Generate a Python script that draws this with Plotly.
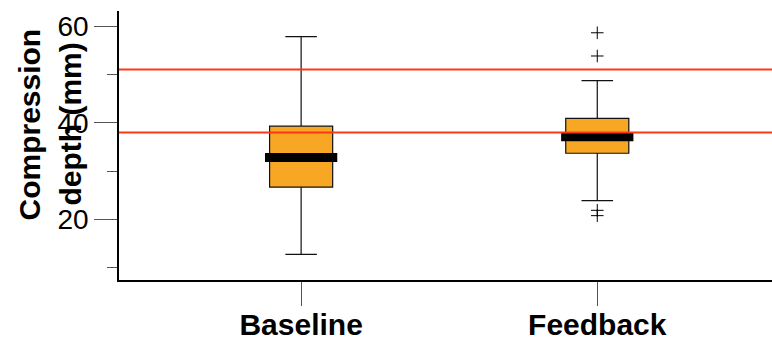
import plotly.graph_objects as go

categories = ["Baseline", "Feedback"]
q1 = [26.7, 33.7]
median = [32.8, 37.1]
q3 = [39.3, 40.9]
lower_whisker = [12.8, 23.9]
upper_whisker = [57.8, 48.7]
outliers = [[], [58.6, 53.8, 21.9, 20.8]]
reference_lines = [51.0, 38.0]
y_major_ticks = [20, 40, 60]
y_minor_ticks = [10, 30, 50]
title_lines = ["Compression", "depth (mm)"]

BOX_FILL = "#F8A724"
BOX_WIDTH = 0.213
MEDIAN_HALF = 0.122
FONT = "Liberation Sans, Arial, sans-serif"

fig = go.Figure()
positions = list(range(len(categories)))

for i, pos in enumerate(positions):
    fig.add_trace(go.Box(
        x=[pos], q1=[q1[i]], median=[median[i]], q3=[q3[i]],
        lowerfence=[lower_whisker[i]], upperfence=[upper_whisker[i]],
        width=BOX_WIDTH, whiskerwidth=0.5, fillcolor=BOX_FILL,
        line=dict(color="#111111", width=1.2), boxpoints=False,
        showlegend=False, hoverinfo="skip",
    ))
    # thick median band
    fig.add_trace(go.Scatter(
        x=[pos - MEDIAN_HALF, pos + MEDIAN_HALF], y=[median[i], median[i]],
        mode="lines", line=dict(color="black", width=9),
        showlegend=False, hoverinfo="skip",
    ))
    if outliers[i]:
        fig.add_trace(go.Scatter(
            x=[pos] * len(outliers[i]), y=outliers[i], mode="markers",
            marker=dict(symbol="cross-thin", size=9,
                        line=dict(width=1, color="black")),
            showlegend=False, hoverinfo="skip",
        ))

for yv in reference_lines:
    fig.add_shape(type="line", xref="paper", x0=0, x1=1, yref="y", y0=yv, y1=yv,
                  line=dict(color="#FF3814", width=2), layer="above")

title_x = [-0.1363, -0.0750]
annotations = [dict(
    text=t, textangle=-90, xref="paper", yref="paper", x=title_x[k], y=0.578,
    xanchor="center", yanchor="middle", showarrow=False,
    font=dict(family=FONT, size=30, weight="bold", color="black"),
) for k, t in enumerate(title_lines)]

fig.update_layout(
    width=772, height=340,
    margin=dict(l=119, r=0, t=11, b=60),
    paper_bgcolor="white", plot_bgcolor="white",
    font=dict(family=FONT, color="black"),
    xaxis=dict(
        range=[-0.615, 1.59], tickvals=positions, ticktext=categories,
        ticks="outside", ticklen=24, tickcolor="#555555", tickwidth=1,
        ticklabelstandoff=-7,
        showline=True, linecolor="black", linewidth=1.5,
        showgrid=False, zeroline=False, automargin=False,
        tickfont=dict(family=FONT, size=30, weight="bold", color="black"),
    ),
    yaxis=dict(
        range=[7.5, 63.1], tickvals=y_major_ticks,
        ticks="outside", ticklen=23, tickcolor="#555555", tickwidth=1,
        minor=dict(tickvals=y_minor_ticks, ticks="outside", ticklen=10,
                   tickcolor="#555555", tickwidth=1),
        showline=True, linecolor="black", linewidth=1.5,
        showgrid=False, zeroline=False, automargin=False,
        tickfont=dict(family=FONT, size=28, color="black"),
    ),
    annotations=annotations,
)

fig.write_html("out.html")
